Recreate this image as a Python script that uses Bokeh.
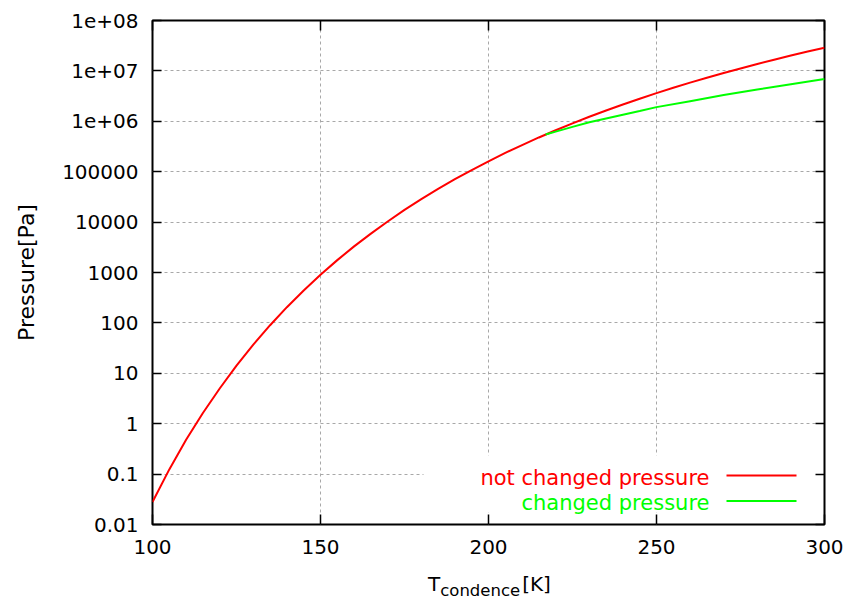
from bokeh.plotting import figure
from bokeh.layouts import column
from bokeh.models import (Range1d, FixedTicker, LogAxis, LinearAxis, Div,
                          CustomJSTickFormatter, Label, BoxAnnotation, Arrow)
from bokeh.embed import file_html
from bokeh.resources import INLINE

# ---- data ----
temps = [100, 105, 110, 115, 120, 125, 130, 135, 140, 145, 150, 155, 160, 165,
         170, 175, 180, 185, 190, 195, 200, 205, 210, 215, 220, 225, 230, 235,
         240, 245, 250, 255, 260, 265, 270, 275, 280, 285, 290, 295, 300]
p_not_changed = [0.028, 0.124, 0.48, 1.63, 5.0, 14.2, 37, 90, 205, 440, 900,
                 1760, 3300, 5900, 10300, 17500, 28600, 45700, 71000, 108000,
                 161000, 236000, 338000, 478000, 664000, 908000, 1.23e6,
                 1.64e6, 2.16e6, 2.81e6, 3.62e6, 4.62e6, 5.85e6, 7.33e6,
                 9.1e6, 1.12e7, 1.37e7, 1.67e7, 2.02e7, 2.42e7, 2.88e7]

temps_changed = [217, 220, 225, 230, 235, 240, 245, 250, 260, 270, 280, 290, 300]
p_changed = [5.46e5, 6.24e5, 7.74e5, 9.55e5, 1.14e6, 1.35e6, 1.60e6, 1.91e6,
             2.51e6, 3.31e6, 4.27e6, 5.43e6, 6.92e6]

x_ticks = [100, 150, 200, 250, 300]
y_ticks = [0.01, 0.1, 1, 10, 100, 1000, 10000, 100000, 1e6, 1e7, 1e8]
y_tick_labels = ["0.01", "0.1", "1", "10", "100", "1000", "10000", "100000",
                 "1e+06", "1e+07", "1e+08"]

series_names = ["not changed pressure", "changed pressure"]
series_colors = ["#ff0000", "#00ff00"]

FONT = "DejaVu Sans"

p = figure(width=846, height=565, x_range=Range1d(100, 300),
           y_range=Range1d(0.01, 1e8), y_axis_type="log",
           output_backend="svg", toolbar_location=None,
           min_border_left=152, min_border_right=22,
           min_border_top=20, min_border_bottom=41)
p.background_fill_color = "white"
p.border_fill_color = "white"
p.outline_line_color = "black"
p.outline_line_width = 2

# grid
p.xgrid.ticker = FixedTicker(ticks=x_ticks)
p.ygrid.ticker = FixedTicker(ticks=y_ticks)
for g in (p.xgrid[0], p.ygrid[0]):
    g.grid_line_color = "#a8a8a8"
    g.grid_line_dash = "3 3"
    g.grid_line_width = 1

# legend area cleared (as gnuplot does)
p.add_layout(BoxAnnotation(left=271, right=669, bottom=12, top=69,
                           left_units="screen", right_units="screen",
                           bottom_units="screen", top_units="screen",
                           fill_color="white", fill_alpha=1.0,
                           line_color=None, level="glyph"))

# curves
p.line(temps, p_not_changed, line_color=series_colors[0], line_width=2)
p.line(temps_changed, p_changed, line_color=series_colors[1], line_width=2)

# axes
xa = p.xaxis[0]
xa.ticker = FixedTicker(ticks=x_ticks)
ya = p.yaxis[0]
ya.ticker = FixedTicker(ticks=y_ticks)
ya.formatter = CustomJSTickFormatter(
    args=dict(tv=y_ticks, tl=y_tick_labels),
    code="""
    for (let i = 0; i < tv.length; i++) {
      if (Math.abs(Math.log10(tv[i]) - Math.log10(tick)) < 1e-6) return tl[i];
    }
    return '';
    """)

for ax in (xa, ya):
    ax.axis_line_color = None
    ax.major_tick_out = 0
    ax.major_tick_line_color = "black"
    ax.major_tick_line_width = 1.5
    ax.minor_tick_line_color = None
    ax.major_label_text_font = FONT
    ax.major_label_text_font_size = "20px"
    ax.major_label_text_color = "black"
xa.major_tick_in = 10
ya.major_tick_in = 9
xa.major_label_standoff = 15
ya.major_label_standoff = 14

ya.axis_label = "Pressure[Pa]"
ya.axis_label_text_font = FONT
ya.axis_label_text_font_size = "22px"
ya.axis_label_text_font_style = "normal"
ya.axis_label_text_color = "black"
ya.axis_label_standoff = 20

# mirrored ticks (no labels)
blank = CustomJSTickFormatter(code="return '';")
ra = LogAxis(ticker=FixedTicker(ticks=y_ticks), formatter=blank)
ta = LinearAxis(ticker=FixedTicker(ticks=x_ticks), formatter=blank)
for ax, tin in ((ra, 9), (ta, 10)):
    ax.axis_line_color = None
    ax.major_tick_in = tin
    ax.major_tick_out = 0
    ax.major_tick_line_width = 1.5
    ax.minor_tick_line_color = None
p.add_layout(ra, "right")
p.add_layout(ta, "above")

# legend (gnuplot style: label then sample)
for name, color, ly in zip(series_names, series_colors, [49, 23.5]):
    p.add_layout(Label(x=557, y=ly - 2, x_units="screen", y_units="screen",
                       text=name, text_font=FONT, text_font_size="21px",
                       text_color=color, text_align="right",
                       text_baseline="middle"))
    p.add_layout(Arrow(end=None, x_start=574, y_start=ly, x_end=644, y_end=ly,
                       start_units="screen", end_units="screen",
                       line_color=color, line_width=2))

# x axis title with subscript
xlabel = Div(text="T<sub style='font-size:16.5px'>condence</sub>"
                  "<span style='margin-left:2px'>[K]</span>",
             width=846, height=34, margin=(0, 0, 0, 0),
             styles={"font-family": FONT, "font-size": "20px", "color": "black",
                     "padding-left": "428px", "padding-top": "7px",
                     "line-height": "1.2", "background": "white"})

layout = column(p, xlabel, spacing=0)
open("out.html", "w").write(file_html(layout, INLINE))
